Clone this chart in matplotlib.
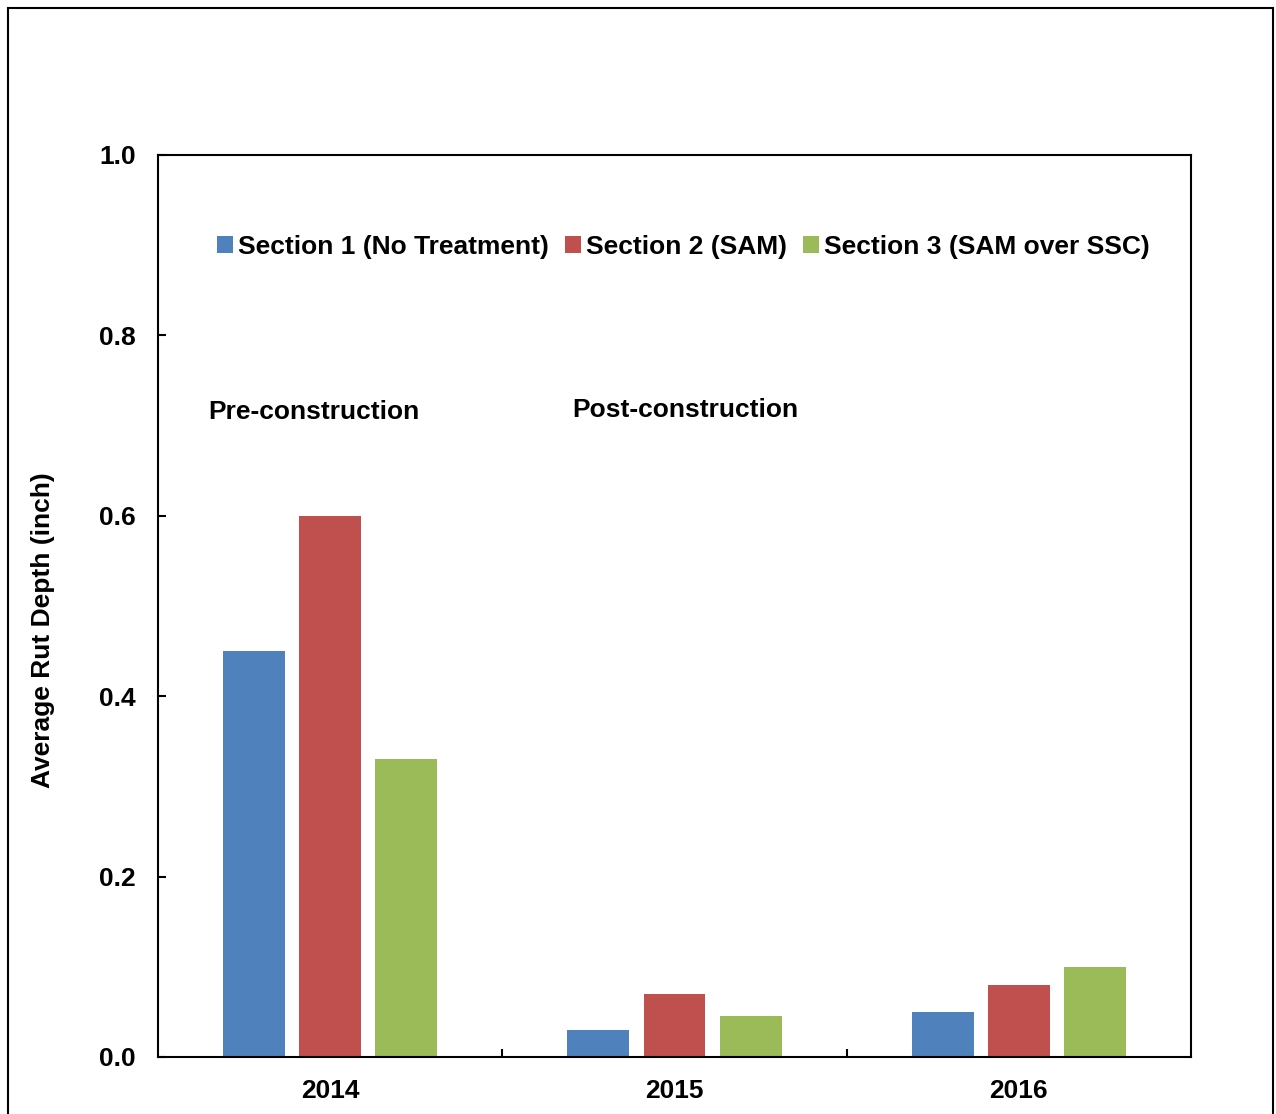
import numpy as np
import matplotlib
matplotlib.use("Agg")
import matplotlib.pyplot as plt
from matplotlib.patches import Rectangle

plt.rcParams['font.family'] = ['Liberation Sans', 'DejaVu Sans']
plt.rcParams['font.weight'] = 'bold'

years = ['2014', '2015', '2016']
sections = ['Section 1 (No Treatment)', 'Section 2 (SAM)', 'Section 3 (SAM over SSC)']
colors = ['#4F81BD', '#C0504D', '#9BBB59']
sec1 = [0.45, 0.030, 0.05]
sec2 = [0.60, 0.070, 0.08]
sec3 = [0.33, 0.045, 0.10]

fig = plt.figure(figsize=(12.76, 11.14), dpi=100)
ax = fig.add_axes([0.1238, 0.0512, 0.8096, 0.8097])

x = np.arange(len(years))
step = 0.221
width = 0.18
for k, (vals, name, c) in enumerate(zip([sec1, sec2, sec3], sections, colors)):
    ax.bar(x + (k - 1) * step, vals, width, color=c, label=name)

ax.set_xlim(-0.5, 2.5)
ax.set_ylim(0, 1.0)

# boundaries between year groups get the tick marks, labels sit in the middle
ax.set_xticks([0.5, 1.5])
ax.set_xticklabels([])
ax.set_xticks(x, minor=True)
ax.set_xticklabels(years, minor=True)
ax.tick_params(axis='x', which='major', direction='in', length=6, width=1.5)
ax.tick_params(axis='x', which='minor', length=0, pad=16, labelsize=19)

ax.set_yticks(np.arange(0, 1.01, 0.2))
ax.set_yticklabels(['%.1f' % v for v in np.arange(0, 1.01, 0.2)])
ax.tick_params(axis='y', direction='in', length=6, width=1.5, pad=16, labelsize=19)

for s in ax.spines.values():
    s.set_linewidth(1.5)

ax.set_ylabel('Average Rut Depth (inch)', fontsize=19, fontweight='bold')
ax.yaxis.set_label_coords(-0.0997, 0.473)

ax.text(0.0484, 0.715, 'Pre-construction', transform=ax.transAxes,
        fontsize=19, fontweight='bold', va='center', ha='left')
ax.text(0.4008, 0.7175, 'Post-construction', transform=ax.transAxes,
        fontsize=19, fontweight='bold', va='center', ha='left')

ax.legend(loc='center', bbox_to_anchor=(0.5087, 0.898), ncol=3, frameon=False,
          prop={'size': 19, 'weight': 'bold'}, handlelength=0.6, handleheight=0.6,
          handletextpad=0.2, columnspacing=0.6, borderaxespad=0)

# outer frame around the chart area
fig.patches.append(Rectangle((8 / 1276, -0.05), 1265 / 1276, 1 - 8 / 1114 + 0.05,
                             transform=fig.transFigure, fill=False,
                             edgecolor='black', linewidth=1.5))

fig.savefig('out.png', dpi=100)
